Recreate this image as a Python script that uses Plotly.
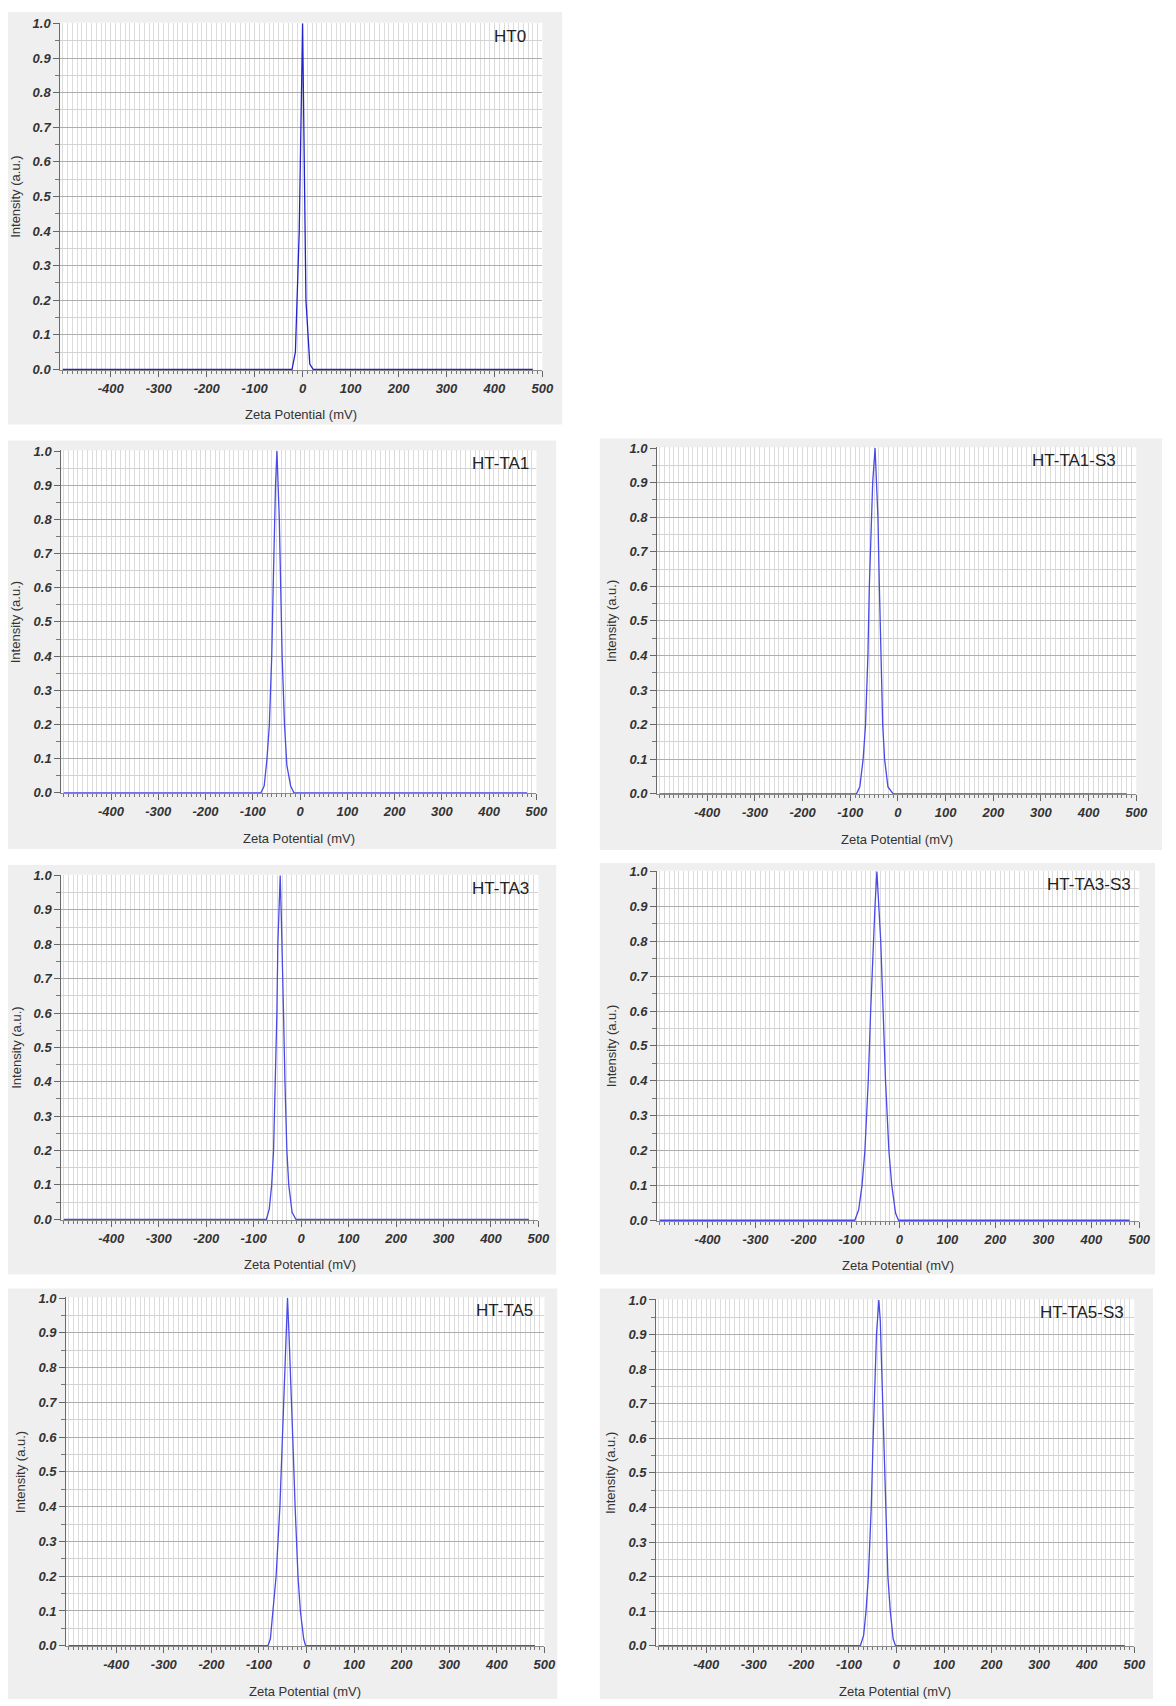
import plotly.graph_objects as go

# ---------------- data: zeta potential distributions ----------------
sample_names = ["HT0", "HT-TA1", "HT-TA1-S3", "HT-TA3", "HT-TA3-S3", "HT-TA5", "HT-TA5-S3"]

ht0_mv = [-500, -22, -15, -7, 0, 7, 15, 22, 480]
ht0_int = [0, 0, 0.05, 0.40, 1.0, 0.20, 0.015, 0, 0]

ta1_mv = [-500, -83, -76, -70, -65, -60, -57, -54, -52, -49, -46, -44, -41, -38, -33, -28, -20, -13, 480]
ta1_int = [0, 0, 0.02, 0.10, 0.20, 0.40, 0.60, 0.80, 0.90, 1.0, 0.90, 0.80, 0.60, 0.40, 0.20, 0.08, 0.02, 0, 0]

ta1s3_mv = [-500, -87, -80, -73, -68, -63, -60, -56, -53, -48, -45, -42, -39, -36, -32, -28, -21, -10, 480]
ta1s3_int = [0, 0, 0.02, 0.10, 0.20, 0.40, 0.60, 0.80, 0.90, 1.0, 0.90, 0.80, 0.60, 0.40, 0.20, 0.10, 0.02, 0, 0]

ta3_mv = [-500, -73, -67, -62, -58, -54, -51, -49, -47, -44, -42, -40, -37, -34, -30, -26, -19, -11, 480]
ta3_int = [0, 0, 0.03, 0.10, 0.20, 0.40, 0.60, 0.80, 0.90, 1.0, 0.90, 0.80, 0.60, 0.40, 0.20, 0.10, 0.02, 0, 0]

ta3s3_mv = [-500, -93, -85, -78, -72, -65, -60, -55, -51, -47, -43, -39, -34, -29, -22, -16, -8, -2, 480]
ta3s3_int = [0, 0, 0.03, 0.10, 0.20, 0.40, 0.60, 0.80, 0.90, 1.0, 0.90, 0.80, 0.60, 0.40, 0.20, 0.10, 0.02, 0, 0]

ta5_mv = [-500, -81, -76, -71, -64, -56, -51, -46, -43, -40, -37, -34, -29, -24, -18, -13, -6, -2, 480]
ta5_int = [0, 0, 0.02, 0.10, 0.20, 0.40, 0.60, 0.80, 0.90, 1.0, 0.90, 0.80, 0.60, 0.40, 0.20, 0.10, 0.02, 0, 0]

ta5s3_mv = [-500, -76, -69, -64, -59, -53, -49, -45, -42, -37, -34, -31, -27, -23, -18, -13, -7, -2, 480]
ta5s3_int = [0, 0, 0.03, 0.10, 0.20, 0.40, 0.60, 0.80, 0.90, 1.0, 0.94, 0.80, 0.60, 0.40, 0.20, 0.10, 0.02, 0, 0]

series_mv = [ht0_mv, ta1_mv, ta1s3_mv, ta3_mv, ta3s3_mv, ta5_mv, ta5s3_mv]
series_int = [ht0_int, ta1_int, ta1s3_int, ta3_int, ta3s3_int, ta5_int, ta5s3_int]

x_tick_vals = [-400, -300, -200, -100, 0, 100, 200, 300, 400, 500]
x_tick_text = ["-400", "-300", "-200", "-100", "0", "100", "200", "300", "400", "500"]
y_tick_vals = [0.0, 0.1, 0.2, 0.3, 0.4, 0.5, 0.6, 0.7, 0.8, 0.9, 1.0]
y_tick_text = ["0.0", "0.1", "0.2", "0.3", "0.4", "0.5", "0.6", "0.7", "0.8", "0.9", "1.0"]

x_title = "Zeta Potential (mV)"
y_title = "Intensity (a.u.)"

# ---------------- page geometry (pixels) ----------------
W, H = 1176, 1706

# (panel box x0, y0, x1, y1), (plot left, top, right, bottom), sample label right edge in mV
panels = [
    ((8, 5, 568, 421), (61, 16, 548, 366), 470),
    ((8, 437, 562, 849), (62, 447, 542, 793), 489),
    ((606, 435, 1174, 850), (664, 444, 1148, 794), 462),
    ((8, 865, 562, 1278), (62, 875, 544, 1223), 484),
    ((606, 863, 1167, 1278), (664, 871, 1151, 1224), 487),
    ((8, 1292, 563, 1706), (67, 1301, 550, 1653), 480),
    ((606, 1292, 1165, 1706), (663, 1303, 1146, 1653), 482),
]

line_colors = ["#2323cc", "#4a4ae6", "#4a4ae6", "#4a4ae6", "#4a4ae6", "#4a4ae6", "#4a4ae6"]

FONT = "Liberation Sans, Arial, sans-serif"
tick_font = dict(family=FONT, size=13, color="#333333", weight="bold", style="italic")


def px_x(v):
    return v / W


def px_y(v):
    return 1 - v / H


fig = go.Figure()
shapes = []
annotations = []
layout_axes = {}

for i, (box, plot, label_x) in enumerate(panels):
    n = i + 1
    xa = "x" if n == 1 else f"x{n}"
    ya = "y" if n == 1 else f"y{n}"

    # light grey panel with a white plotting area on top of it
    shapes.append(dict(
        type="rect", xref="paper", yref="paper",
        x0=px_x(box[0]), x1=px_x(box[2]), y0=px_y(box[3]), y1=px_y(box[1]),
        fillcolor="#efefef", line=dict(width=0), layer="below",
    ))
    l, t, r, b = plot
    shapes.append(dict(
        type="rect", xref="paper", yref="paper",
        x0=px_x(l), x1=px_x(r), y0=px_y(b), y1=px_y(t),
        fillcolor="white", line=dict(width=0), layer="below",
    ))

    fig.add_trace(go.Scatter(
        x=series_mv[i], y=series_int[i], mode="lines",
        line=dict(color=line_colors[i], width=1.3),
        xaxis=xa, yaxis=ya, showlegend=False, name=sample_names[i],
    ))

    layout_axes["xaxis" if n == 1 else f"xaxis{n}"] = dict(
        domain=[px_x(l), px_x(r)], anchor=ya,
        range=[-505, 500], tickmode="array", tickvals=x_tick_vals, ticktext=x_tick_text,
        tickfont=tick_font, ticks="outside", ticklen=6, tickcolor="#666666", tickwidth=1,
        showgrid=True, gridcolor="#d9d9d9", gridwidth=1,
        showline=True, linecolor="#8a8a8a", linewidth=1,
        zeroline=False, fixedrange=True,
        minor=dict(tickmode="linear", tick0=0, dtick=10, ticks="outside", ticklen=3,
                   tickcolor="#777777", showgrid=True, gridcolor="#dcdcdc", gridwidth=0.9),
    )
    layout_axes["yaxis" if n == 1 else f"yaxis{n}"] = dict(
        domain=[px_y(b), px_y(t)], anchor=xa,
        range=[-0.002, 1.002], tickmode="array", tickvals=y_tick_vals, ticktext=y_tick_text,
        tickfont=tick_font, ticks="outside", ticklen=6, tickcolor="#666666", tickwidth=1,
        showgrid=True, gridcolor="#adadad", gridwidth=1.4,
        showline=True, linecolor="#6a6a6a", linewidth=1.2,
        zeroline=False, fixedrange=True,
        minor=dict(tickmode="linear", tick0=0, dtick=0.05, ticks="outside", ticklen=4,
                   tickcolor="#777777", showgrid=True, gridcolor="#d2d2d2", gridwidth=1),
    )

    # sample label inside the plot, upper right
    annotations.append(dict(
        text=sample_names[i], x=label_x, y=0.995, xref=xa, yref=f"{ya} domain",
        xanchor="right", yanchor="top", showarrow=False,
        font=dict(family=FONT, size=17, color="#222222"),
    ))
    # axis titles
    annotations.append(dict(
        text=x_title, x=0.5, y=0, xref=f"{xa} domain", yref=f"{ya} domain",
        xanchor="center", yanchor="middle", yshift=-45, showarrow=False,
        font=dict(family=FONT, size=13, color="#333333"),
    ))
    annotations.append(dict(
        text=y_title, x=0, y=0.5, xref=f"{xa} domain", yref=f"{ya} domain",
        xanchor="center", yanchor="middle", xshift=-45, textangle=-90, showarrow=False,
        font=dict(family=FONT, size=13, color="#333333"),
    ))

fig.update_layout(
    width=W, height=H, autosize=False,
    margin=dict(l=0, r=0, t=0, b=0),
    paper_bgcolor="white", plot_bgcolor="white",
    shapes=shapes, annotations=annotations,
    **layout_axes,
)

fig.write_html(
    "out.html",
    config={"responsive": False, "displayModeBar": False},
    default_width="1176px", default_height="1706px",
)
